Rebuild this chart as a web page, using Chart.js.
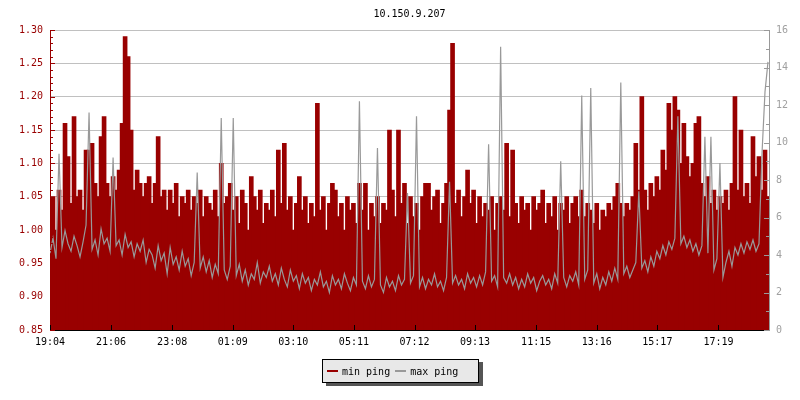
<!DOCTYPE html>
<html>
<head>
<meta charset="utf-8">
<script src="https://cdn.jsdelivr.net/npm/chart.js@4"></script>
<style>
    body { margin: 0; background: #fff; }
    #wrap { position: relative; width: 800px; height: 400px; }
    #legend {
        position: absolute; left: 322px; top: 359px; width: 151px; height: 22px;
        border: 1px solid #000; background: #e8e8e8; box-shadow: 4px 3px 0 #555;
        font: 10px "DejaVu Sans Mono", monospace; color: #000;
        display: flex; align-items: center; padding-left: 4px; box-sizing: content-box;
    }
    #legend .sw { display: inline-block; width: 11px; height: 2px; margin-right: 4px; }
    #legend .it { display: flex; align-items: center; margin-right: 5px; }
</style>
</head>
<body>
<div id="wrap">
    <canvas id="c" width="800" height="400"></canvas>
    <div id="legend"></div>
</div>
<script>
// one sample every 6 minutes, starting 19:04
const stepMin = 6;

const tickMinutes = [0, 122, 244, 365, 486, 607, 728, 849, 971, 1092, 1213, 1335];
const tickLabels = ['19:04', '21:06', '23:08', '01:09', '03:10', '05:11', '07:12', '09:13', '11:15', '13:16', '15:17', '17:19'];

const minPing = [
    1.02, 1.05, 1.00, 1.06, 1.03, 1.16, 1.11, 1.04, 1.17, 1.05, 1.06, 1.03, 1.12, 1.12, 1.13, 1.07, 1.05, 1.14, 1.17, 1.07,
    1.05, 1.08, 1.06, 1.09, 1.16, 1.29, 1.26, 1.15, 1.06, 1.09, 1.07, 1.05, 1.07, 1.08, 1.04, 1.07, 1.14, 1.05, 1.06, 1.03,
    1.06, 1.04, 1.07, 1.02, 1.05, 1.04, 1.06, 1.03, 1.05, 1.04, 1.06, 1.02, 1.05, 1.04, 1.03, 1.06, 1.02, 1.10, 1.04, 1.05,
    1.07, 1.03, 1.05, 1.01, 1.06, 1.04, 1.00, 1.08, 1.05, 1.03, 1.06, 1.01, 1.04, 1.03, 1.06, 1.02, 1.12, 1.04, 1.13, 1.03,
    1.05, 1.00, 1.04, 1.08, 1.03, 1.05, 1.01, 1.04, 1.02, 1.19, 1.03, 1.05, 1.00, 1.04, 1.07, 1.06, 1.02, 1.04, 1.00, 1.05,
    1.03, 1.04, 1.01, 1.07, 1.03, 1.07, 1.00, 1.04, 1.02, 1.05, 1.01, 1.04, 1.03, 1.15, 1.06, 1.02, 1.15, 1.04, 1.07, 1.01,
    1.05, 1.02, 1.04, 1.00, 1.05, 1.07, 1.07, 1.03, 1.05, 1.06, 1.01, 1.04, 1.07, 1.18, 1.28, 1.04, 1.06, 1.02, 1.05, 1.09,
    1.04, 1.06, 1.01, 1.05, 1.02, 1.04, 1.03, 1.05, 1.00, 1.04, 1.05, 1.03, 1.13, 1.02, 1.12, 1.04, 1.01, 1.05, 1.03, 1.04,
    1.00, 1.05, 1.03, 1.04, 1.06, 1.01, 1.04, 1.02, 1.05, 1.00, 1.04, 1.03, 1.05, 1.01, 1.04, 1.05, 1.02, 1.06, 1.02, 1.04,
    1.03, 1.01, 1.04, 1.00, 1.03, 1.02, 1.04, 1.03, 1.05, 1.07, 1.04, 1.02, 1.04, 1.03, 1.05, 1.13, 1.06, 1.20, 1.06, 1.03,
    1.07, 1.05, 1.08, 1.06, 1.12, 1.09, 1.19, 1.15, 1.20, 1.18, 1.10, 1.16, 1.11, 1.08, 1.10, 1.16, 1.17, 1.07, 1.05, 1.08,
    1.04, 1.06, 1.03, 1.05, 1.04, 1.06, 1.03, 1.07, 1.20, 1.06, 1.15, 1.05, 1.07, 1.04, 1.14, 1.08, 1.11, 1.06, 1.12, 1.05,
];

const maxPing = [
    4.1, 4.9, 3.8, 9.4, 4.4, 5.3, 4.6, 4.2, 5.0, 4.5, 3.9, 4.7, 5.6, 11.6, 4.3, 4.8, 4.0, 5.4, 4.6, 4.9,
    4.2, 9.2, 4.5, 4.8, 4.0, 5.1, 4.4, 4.7, 3.9, 4.6, 4.2, 4.8, 3.6, 4.3, 4.0, 3.3, 4.5, 3.7, 4.1, 3.0,
    4.4, 3.5, 3.9, 3.2, 4.2, 3.4, 3.8, 2.9, 3.6, 8.4, 3.3, 3.9, 3.1, 3.7, 2.8, 3.5, 3.0, 11.3, 3.2, 2.7,
    3.4, 11.3, 2.9, 3.5, 2.6, 3.2, 2.4, 3.0, 2.7, 3.6, 2.5, 3.1, 2.8, 3.4, 2.6, 3.0, 2.4, 3.3, 2.7, 2.3,
    3.2, 2.6, 2.9, 2.2, 3.0, 2.5, 2.8, 2.1, 2.7, 2.4, 3.1, 2.3, 2.6, 2.0, 2.9, 2.4, 2.7, 2.2, 3.0, 2.5,
    2.1, 2.8, 2.4, 12.2, 2.6, 2.2, 2.9, 2.3, 2.7, 9.7, 2.4, 2.0, 2.8, 2.3, 2.6, 2.1, 2.9, 2.4, 2.7, 7.3,
    2.5, 2.9, 11.4, 2.3, 2.8, 2.2, 2.7, 2.4, 3.0, 2.3, 2.6, 2.1, 2.8, 7.9, 2.5, 2.9, 2.4, 2.7, 2.2, 3.0,
    2.5, 2.8, 2.3, 2.9, 2.4, 3.1, 9.9, 2.6, 2.9, 2.3, 15.1, 2.8, 2.5, 3.0, 2.4, 2.8, 2.2, 2.7, 2.3, 3.0,
    2.5, 2.8, 2.1, 2.6, 2.9, 2.4, 2.7, 2.2, 3.0, 2.5, 9.0, 2.8, 2.3, 2.9, 2.6, 3.1, 2.4, 12.5, 2.7, 3.2,
    12.9, 2.5, 3.0, 2.2, 2.8, 2.4, 3.1, 2.6, 3.3, 2.7, 13.2, 3.0, 3.4, 2.8, 3.2, 3.6, 7.4, 3.3, 3.7, 3.1,
    3.9, 3.4, 4.2, 3.8, 4.5, 4.0, 4.7, 4.3, 4.9, 11.4, 4.6, 5.0, 4.4, 4.8, 4.2, 4.6, 4.0, 4.5, 10.3, 4.1,
    10.3, 3.2, 3.8, 8.9, 2.8, 3.6, 4.2, 3.4, 4.4, 4.0, 4.6, 4.1, 4.7, 4.3, 4.8, 4.2, 4.6, 9.4, 12.7, 14.3,
];

const red = '#990000';
const grey = '#999999';
const font = { family: '"DejaVu Sans Mono", monospace', size: 10 };

// inward tick marks like the original graph
const tickMarks = {
    id: 'tickMarks',
    afterDraw(chart)
    {
        let ctx = chart.ctx;
        let a = chart.chartArea;
        let sy = chart.scales.y, sy2 = chart.scales.y2, sx = chart.scales.x;
        ctx.save();
        ctx.lineWidth = 1;

        ctx.strokeStyle = red;
        for (let k = 85; k <= 130; k++)
        {
            let py = Math.round(sy.getPixelForValue(k / 100)) + 0.5;
            let len = k % 5 === 0 ? 5 : 3;
            ctx.beginPath();
            ctx.moveTo(a.left, py);
            ctx.lineTo(a.left + len, py);
            ctx.stroke();
        }

        ctx.strokeStyle = grey;
        for (let k = 0; k <= 16; k++)
        {
            let py = Math.round(sy2.getPixelForValue(k)) + 0.5;
            let len = k % 2 === 0 ? 5 : 3;
            ctx.beginPath();
            ctx.moveTo(a.right - len, py);
            ctx.lineTo(a.right, py);
            ctx.stroke();
        }

        ctx.strokeStyle = '#000';
        for (let m of tickMinutes)
        {
            let px = Math.round(sx.getPixelForValue(m)) + 0.5;
            ctx.beginPath();
            ctx.moveTo(px, a.bottom);
            ctx.lineTo(px, a.bottom - 5);
            ctx.stroke();
        }
        ctx.restore();
    }
};

let minData = minPing.map((v, i) => ({ x: i * stepMin, y: v }));
let maxData = maxPing.map((v, i) => ({ x: i * stepMin, y: v }));

new Chart('c', {
    type: 'bar',
    data: {
        datasets: [
            {
                type: 'line',
                label: 'max ping',
                data: maxData,
                borderColor: grey,
                backgroundColor: grey,
                borderWidth: 1.2,
                pointRadius: 0,
                tension: 0,
                yAxisID: 'y2',
                order: 0,
            },
            {
                label: 'min ping',
                data: minData,
                backgroundColor: red,
                borderWidth: 0,
                barThickness: 4,
                grouped: false,
                yAxisID: 'y',
                order: 1,
            },
        ]
    },
    options: {
        responsive: false,
        animation: false,
        devicePixelRatio: 1,
        layout: { padding: 0 },
        plugins: {
            legend: { display: false },
            tooltip: { enabled: false },
            title: {
                display: true,
                text: '10.150.9.207',
                color: '#000',
                fullSize: false,
                font: { family: font.family, size: 10, weight: 'normal', lineHeight: 1.2 },
                padding: { top: 8, bottom: 10 },
            },
        },
        scales: {
            x: {
                type: 'linear',
                offset: false,
                min: 0,
                max: 1436,
                afterFit: s => { s.height = 70; },
                afterBuildTicks: s => { s.ticks = tickMinutes.map(v => ({ value: v })); },
                grid: { display: true, drawOnChartArea: false, drawTicks: false },
                border: { display: true, color: '#000', width: 1 },
                ticks: {
                    autoSkip: false,
                    maxRotation: 0,
                    padding: 6,
                    color: '#000',
                    font: font,
                    callback: v => tickLabels[tickMinutes.indexOf(v)],
                },
            },
            y: {
                position: 'left',
                min: 0.85,
                max: 1.30,
                afterFit: s => { s.width = 50; },
                grid: { color: '#c0c0c0', drawTicks: false },
                border: { color: red, width: 1 },
                ticks: {
                    stepSize: 0.05,
                    padding: 7,
                    color: red,
                    font: font,
                    callback: v => v.toFixed(2),
                },
            },
            y2: {
                position: 'right',
                min: 0,
                max: 16,
                afterFit: s => { s.width = 31; },
                grid: { drawOnChartArea: false, drawTicks: false },
                border: { color: grey, width: 1 },
                ticks: {
                    stepSize: 2,
                    padding: 7,
                    color: '#a0a0a0',
                    font: font,
                },
            },
        },
    },
    plugins: [tickMarks],
});

// legend box with shadow, as in the original
let legend = document.getElementById('legend');
[['min ping', red], ['max ping', grey]].forEach(([name, col]) =>
{
    let it = document.createElement('span');
    it.className = 'it';
    it.innerHTML = '<span class="sw" style="background:' + col + '"></span>' + name;
    legend.appendChild(it);
});
</script>
</body>
</html>
